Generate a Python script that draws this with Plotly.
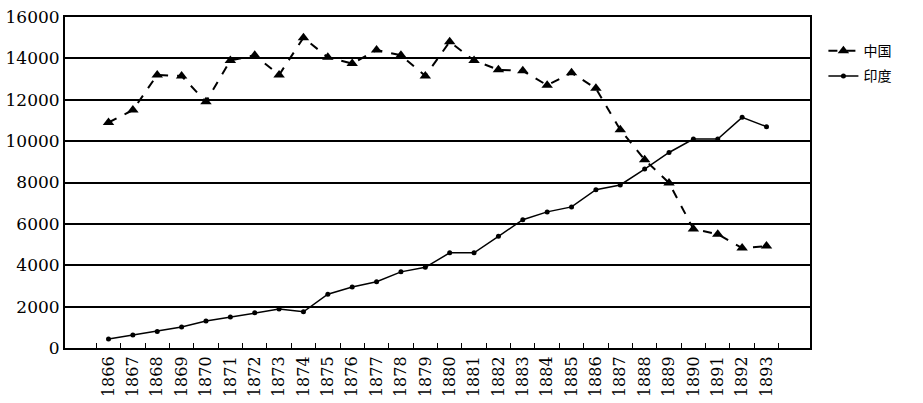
import plotly.graph_objects as go

years = [str(y) for y in range(1866, 1894)]
china = [10900, 11500, 13200, 13150, 11900, 13900, 14150, 13200, 15000, 14050,
         13750, 14400, 14150, 13150, 14800, 13900, 13450, 13400, 12700, 13300,
         12550, 10550, 9100, 7980, 5750, 5500, 4830, 4930]
india = [430, 630, 800, 1020, 1300, 1500, 1700, 1880, 1750, 2600,
         2950, 3200, 3680, 3900, 4600, 4600, 5400, 6200, 6580, 6820,
         7650, 7880, 8650, 9450, 10100, 10100, 11150, 10700]
y_ticks = [0, 2000, 4000, 6000, 8000, 10000, 12000, 14000, 16000]
names = ["中国", "印度"]

fig = go.Figure()
fig.add_trace(go.Scatter(
    x=years, y=china, name=names[0], mode="lines+markers",
    line=dict(color="black", width=2, dash="dash"),
    marker=dict(symbol="triangle-up", size=10, color="black"),
    legendgroup="a"))
fig.add_trace(go.Scatter(
    x=years, y=india, name=names[1], mode="lines+markers",
    line=dict(color="black", width=1.5),
    marker=dict(symbol="circle", size=5, color="black"),
    legendgroup="b"))

fig.update_layout(
    width=923, height=403,
    margin=dict(l=65, r=113, t=17, b=55),
    paper_bgcolor="white", plot_bgcolor="white",
    font=dict(family="DejaVu Serif", size=17, color="black"),
    showlegend=True,
    legend=dict(x=1.018, xanchor="left", y=0.945, yanchor="top",
                font=dict(family="Noto Sans CJK SC", size=14, color="black"),
                traceorder="grouped", tracegroupgap=4,
                bgcolor="rgba(0,0,0,0)", borderwidth=0),
)
fig.update_xaxes(
    type="category", tickangle=-90, showgrid=False, automargin=False,
    showline=True, linecolor="black", linewidth=2, mirror=True,
    ticks="inside", tickson="boundaries", ticklen=5, tickcolor="black",
    tickfont=dict(family="DejaVu Serif", size=16),
)
fig.update_yaxes(
    range=[0, 16000], tickvals=y_ticks, ticktext=[str(v) for v in y_ticks],
    showgrid=True, gridcolor="black", gridwidth=2, automargin=False,
    showline=True, linecolor="black", linewidth=2, mirror=True,
    ticks="", zeroline=False,
    tickfont=dict(family="DejaVu Serif", size=17),
)

fig.write_html("out.html", config={"displayModeBar": False},
               post_script="document.body.style.margin='0';document.body.style.overflow='hidden';")
